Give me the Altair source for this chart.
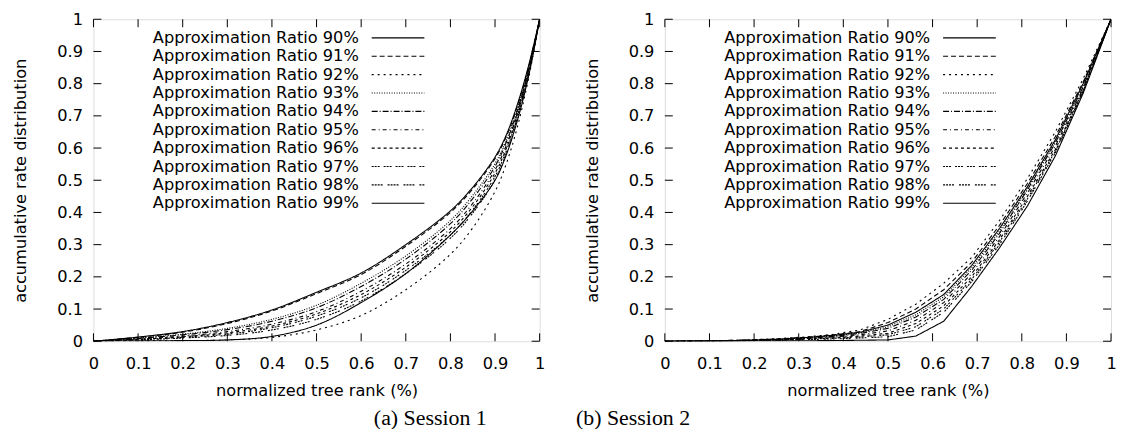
import altair as alt
import pandas as pd

SERIES = [f"Approximation Ratio {p}%" for p in range(90, 100)]
DASHES = [[1, 0], [5, 3], [2, 4], [1, 1.5], [6, 2, 1, 2], [4, 3, 1, 3],
          [3, 3], [2, 1, 2, 1, 2, 4], [2, 1, 2, 1, 2, 1, 2, 5], [1, 0]]
TICKS = [0, 0.1, 0.2, 0.3, 0.4, 0.5, 0.6, 0.7, 0.8, 0.9, 1]

# Session 1
X1 = [0, 0.1, 0.2, 0.3, 0.4, 0.5, 0.6, 0.7, 0.8, 0.85, 0.9, 0.925, 0.95, 0.975, 1.0]
S1 = {
    90: [0, .013, .030, .058, .097, .152, .212, .300, .405, .478, .572, .640, .735, .855, 1],
    91: [0, .012, .028, .055, .094, .148, .207, .295, .400, .473, .567, .635, .730, .850, 1],
    92: [0, .001, .002, .004, .012, .035, .080, .160, .270, .352, .465, .550, .665, .815, 1],
    93: [0, .010, .022, .040, .068, .112, .180, .265, .375, .453, .552, .625, .722, .845, 1],
    94: [0, .009, .020, .036, .062, .104, .170, .255, .365, .443, .543, .617, .716, .842, 1],
    95: [0, .007, .016, .030, .053, .092, .155, .240, .350, .428, .532, .607, .710, .838, 1],
    96: [0, .006, .014, .026, .047, .085, .145, .230, .340, .418, .522, .598, .704, .834, 1],
    97: [0, .005, .012, .022, .042, .078, .135, .220, .330, .408, .512, .590, .698, .830, 1],
    98: [0, .004, .010, .018, .035, .068, .125, .210, .320, .398, .502, .582, .692, .826, 1],
    99: [0, .001, .002, .004, .015, .050, .120, .210, .330, .405, .500, .578, .685, .822, 1],
}

# Session 2
X2 = [0, 0.0625, 0.125, 0.1875, 0.25, 0.3125, 0.375, 0.4375, 0.5, 0.5625,
      0.625, 0.6875, 0.75, 0.8125, 0.875, 0.9375, 1]
S2 = {
    90: [0, .0004, .0015, .003, .006, .011, .018, .028, .050, .090, .145, .235, .350, .480, .625, .800, 1],
    91: [0, .0005, .002, .004, .007, .012, .019, .030, .058, .100, .160, .245, .360, .490, .635, .805, 1],
    92: [0, .0005, .002, .004, .008, .013, .021, .035, .068, .115, .180, .260, .375, .505, .650, .815, 1],
    93: [0, .0004, .0015, .003, .006, .010, .016, .026, .045, .082, .138, .228, .342, .475, .620, .795, 1],
    94: [0, .0004, .0013, .003, .005, .009, .015, .024, .040, .075, .130, .220, .335, .470, .615, .790, 1],
    95: [0, .0003, .0012, .0025, .005, .008, .013, .020, .032, .065, .120, .210, .325, .460, .605, .785, 1],
    96: [0, .0003, .001, .002, .004, .007, .011, .016, .025, .055, .110, .200, .315, .450, .595, .780, 1],
    97: [0, .0003, .001, .002, .004, .006, .009, .013, .020, .045, .100, .192, .308, .442, .590, .777, 1],
    98: [0, .0002, .0008, .0015, .003, .005, .007, .010, .014, .035, .090, .185, .300, .435, .585, .775, 1],
    99: [0, 0, .0002, .0005, .001, .0015, .002, .003, .004, .016, .062, .170, .290, .420, .575, .770, 1],
}

W, H = 449, 324
FONT = "DejaVu Sans"
FS = 16.3
TICK_LEN = 8
LEG_TOP, LEG_STEP = 18.7, 18.5


def long_df(xs, table):
    rows = []
    for p, ys in table.items():
        for x, y in zip(xs, ys):
            rows.append({"series": f"Approximation Ratio {p}%", "x": x, "y": y})
    return pd.DataFrame(rows)


dash_enc = alt.StrokeDash("series:N", scale=alt.Scale(domain=SERIES, range=DASHES), legend=None)

XAXIS = alt.Axis(values=TICKS, format="~g", ticks=False, domain=False, grid=False,
                 labelFont=FONT, labelFontSize=FS, labelColor="black", labelPadding=14,
                 labelFlush=False,
                 title="normalized tree rank (%)", titleFont=FONT, titleFontSize=FS,
                 titleFontWeight="normal", titleColor="black", titlePadding=11)
YAXIS = alt.Axis(values=TICKS, format="~g", ticks=False, domain=False, grid=False,
                 labelFont=FONT, labelFontSize=FS, labelColor="black", labelPadding=11,
                 labelFlush=False,
                 title="accumulative rate distribution", titleFont=FONT, titleFontSize=FS,
                 titleFontWeight="normal", titleColor="black", titlePadding=28)


def xenc():
    return alt.X("x:Q", scale=alt.Scale(domain=[0, 1], nice=False, zero=False), axis=XAXIS)


def yenc():
    return alt.Y("y:Q", scale=alt.Scale(domain=[0, 1], nice=False, zero=False), axis=YAXIS)


def panel(xs, table, interp, caption, cap_x):
    df = long_df(xs, table)
    lines = alt.Chart(df).mark_line(color="black", strokeWidth=1.1, interpolate=interp, clip=True).encode(
        x=xenc(), y=yenc(), strokeDash=dash_enc, detail="series:N")

    tdf = pd.DataFrame({"x": TICKS, "y": TICKS})
    tb = alt.Chart(tdf).mark_rule(color="black").encode(x=xenc(), y=alt.value(H), y2=alt.value(H - TICK_LEN))
    tt = alt.Chart(tdf).mark_rule(color="black").encode(x=xenc(), y=alt.value(0), y2=alt.value(TICK_LEN))
    tl = alt.Chart(tdf).mark_rule(color="black").encode(y=yenc(), x=alt.value(0), x2=alt.value(TICK_LEN))
    tr = alt.Chart(tdf).mark_rule(color="black").encode(y=yenc(), x=alt.value(W), x2=alt.value(W - TICK_LEN))

    ldf = pd.DataFrame({"series": SERIES, "row": list(range(len(SERIES)))})
    leg_base = alt.Chart(ldf).transform_calculate(y=f"1 - ({LEG_TOP} + datum.row * {LEG_STEP}) / {H}")
    leg_text = leg_base.mark_text(align="right", baseline="middle", font=FONT, fontSize=FS, color="black").encode(
        x=alt.value(267), y=yenc(), text="series:N")
    leg_line = leg_base.mark_rule(color="black", strokeWidth=1.1).encode(
        x=alt.value(280), x2=alt.value(333), y=yenc(), strokeDash=dash_enc)

    cap = alt.Chart(pd.DataFrame({"t": [caption]})).mark_text(
        font="Liberation Serif", fontSize=22, color="black", align="center", baseline="middle").encode(
        x=alt.value(cap_x), y=alt.value(H + 77), text="t:N")

    return alt.layer(lines, tb, tt, tl, tr, leg_line, leg_text, cap).properties(width=W, height=H)


p1 = panel(X1, S1, "catmull-rom", "(a) Session 1", 339)
p2 = panel(X2, S2, "linear", "(b) Session 2", -32)

chart = alt.hconcat(p1, p2, spacing=126, bounds="flush").properties(
    padding={"left": 4, "top": 1, "right": 0, "bottom": 0}
).configure_view(stroke="black", strokeWidth=1).configure(background="white")

chart.save("out.html", embed_options={"renderer": "svg", "actions": False})
